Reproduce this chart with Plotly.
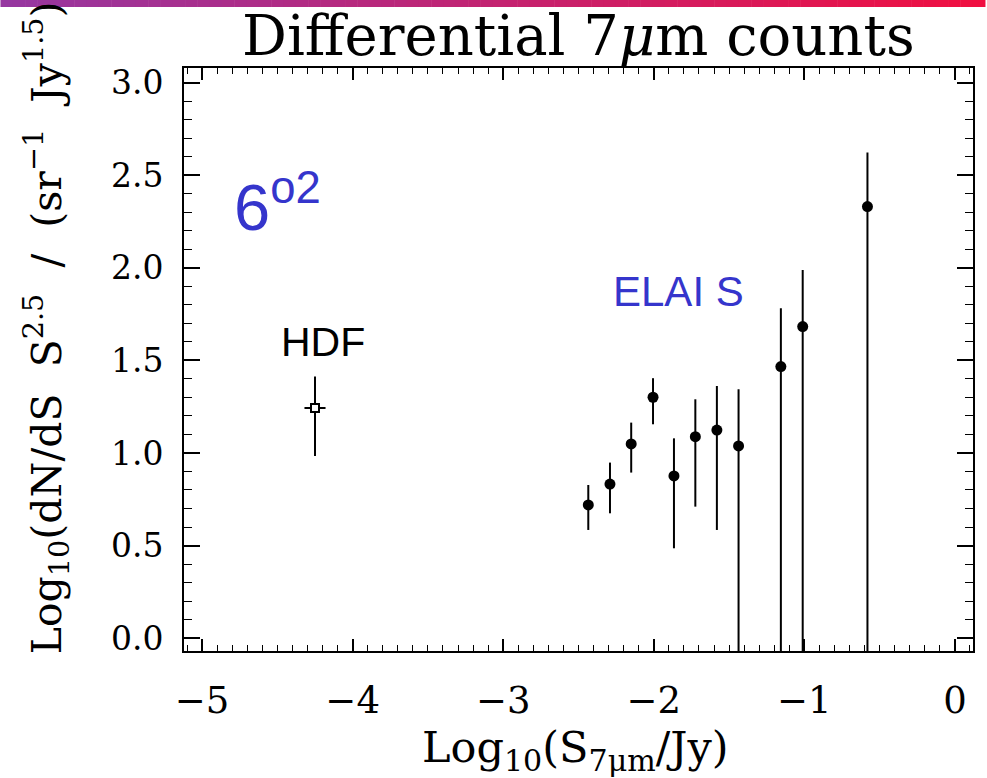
import plotly.graph_objects as go

# ---------------- data ----------------
elais_x = [-2.435, -2.291, -2.150, -2.005, -1.866, -1.724, -1.581, -1.437, -1.156, -1.011, -0.581]
elais_y = [0.719, 0.832, 1.049, 1.301, 0.876, 1.088, 1.124, 1.038, 1.467, 1.683, 2.331]
elais_err_plus = [0.108, 0.116, 0.115, 0.103, 0.203, 0.202, 0.238, 0.306, 0.315, 0.306, 0.292]
elais_err_minus = [0.135, 0.158, 0.155, 0.146, 0.391, 0.378, 0.540, 2.000, 2.000, 2.000, 3.000]

hdf_x = [-4.25]
hdf_y = [1.243]
hdf_err_plus = [0.17]
hdf_err_minus = [0.26]
hdf_xerr = [0.07]

x_ticks = [-5, -4, -3, -2, -1, 0]
x_ticklabels = ["\u22125", "\u22124", "\u22123", "\u22122", "\u22121", "0"]
y_ticks = [0.0, 0.5, 1.0, 1.5, 2.0, 2.5, 3.0]
y_ticklabels = ["0.0", "0.5", "1.0", "1.5", "2.0", "2.5", "3.0"]

# ---------------- figure ----------------
W, H = 987, 778
L, R, T, B = 184, 12, 68, 127
pw, ph = W - L - R, H - T - B

def px2paper_x(px):
    return (px - L) / pw

def px2paper_y(py):
    return (H - B - py) / ph

fig = go.Figure()

fig.add_trace(go.Scatter(
    x=elais_x, y=elais_y, mode="markers",
    marker=dict(color="black", size=11, symbol="circle"),
    error_y=dict(type="data", symmetric=False, array=elais_err_plus,
                 arrayminus=elais_err_minus, color="black", thickness=2, width=0),
    showlegend=False, cliponaxis=True,
))

fig.add_trace(go.Scatter(
    x=hdf_x, y=hdf_y, mode="markers",
    marker=dict(color="white", size=8, symbol="square",
                line=dict(color="black", width=2)),
    error_y=dict(type="data", symmetric=False, array=hdf_err_plus,
                 arrayminus=hdf_err_minus, color="black", thickness=2, width=0),
    error_x=dict(type="data", array=hdf_xerr, color="black", thickness=2, width=0),
    showlegend=False,
))

serif = "DejaVu Serif"
axis_common = dict(
    showline=True, linecolor="black", linewidth=2, mirror="allticks",
    ticks="inside", tickcolor="black", tickwidth=1.5,
    showgrid=False, zeroline=False,
)

fig.update_xaxes(
    range=[-5.12, 0.12], tickmode="array", tickvals=x_ticks, ticktext=x_ticklabels,
    ticklen=12, tickfont=dict(family=serif, size=37, color="black"),
    ticklabelstandoff=16,
    minor=dict(dtick=0.1, ticks="inside", ticklen=6, tickcolor="black", tickwidth=1.2),
    **axis_common,
)
fig.update_yaxes(
    range=[-0.07, 3.08], tickmode="array", tickvals=y_ticks, ticktext=y_ticklabels,
    ticklen=16, tickfont=dict(family=serif, size=33, color="black"),
    ticklabelstandoff=12,
    minor=dict(dtick=0.1, ticks="inside", ticklen=8, tickcolor="black", tickwidth=1.2),
    **axis_common,
)

annotations = [
    dict(text="Differential 7<i>\u03bc</i>m counts", xref="paper", yref="paper",
         x=px2paper_x(580), y=px2paper_y(36), xanchor="center", yanchor="middle",
         showarrow=False, font=dict(family=serif, size=56, color="black")),
    dict(text="Log<sub>10</sub>(S<sub>7\u03bcm</sub>/Jy)", xref="paper", yref="paper",
         x=px2paper_x(576), y=px2paper_y(750), xanchor="center", yanchor="middle",
         showarrow=False, font=dict(family=serif, size=43, color="black")),
    dict(text="Log<sub>10</sub>(dN/dS\u00a0\u00a0S<sup>2.5</sup>\u00a0\u00a0/\u00a0\u00a0(sr<sup>\u22121</sup>\u00a0\u00a0Jy<sup>1.5</sup>))",
         xref="paper", yref="paper", textangle=-90,
         x=px2paper_x(46), y=px2paper_y(320), xanchor="center", yanchor="middle",
         showarrow=False, font=dict(family=serif, size=41, color="black")),
    dict(text="HDF", xref="x", yref="y", x=-4.199, y=1.60,
         xanchor="center", yanchor="middle", showarrow=False,
         font=dict(family="Liberation Sans", size=41, color="black")),
    dict(text="ELAI S", xref="x", yref="y", x=-1.834, y=1.87,
         xanchor="center", yanchor="middle", showarrow=False,
         font=dict(family="Liberation Sans", size=42, color="#3535CC")),
    dict(text="6<sup>o2</sup>", xref="x", yref="y", x=-4.80, y=2.35,
         xanchor="left", yanchor="middle", showarrow=False,
         font=dict(family="Liberation Sans", size=65, color="#3535CC")),
]

# gradient bar across the top of the page
shapes = []
n = 80
c0 = (150, 55, 160)
c1 = (240, 15, 65)
for i in range(n):
    f = i / (n - 1)
    col = "rgb(%d,%d,%d)" % tuple(int(round(a + (b - a) * f)) for a, b in zip(c0, c1))
    x0 = px2paper_x(i * W / n)
    x1 = px2paper_x((i + 1) * W / n + 0.5)
    shapes.append(dict(type="rect", xref="paper", yref="paper",
                       x0=x0, x1=x1, y0=px2paper_y(7), y1=px2paper_y(-1),
                       fillcolor=col, line=dict(width=0), layer="above"))

fig.update_layout(
    width=W, height=H,
    margin=dict(l=L, r=R, t=T, b=B, pad=0),
    paper_bgcolor="white", plot_bgcolor="white",
    annotations=annotations, shapes=shapes,
    showlegend=False,
)

fig.write_html("out.html", config={"displayModeBar": False},
               post_script="document.body.style.margin='0px';")
